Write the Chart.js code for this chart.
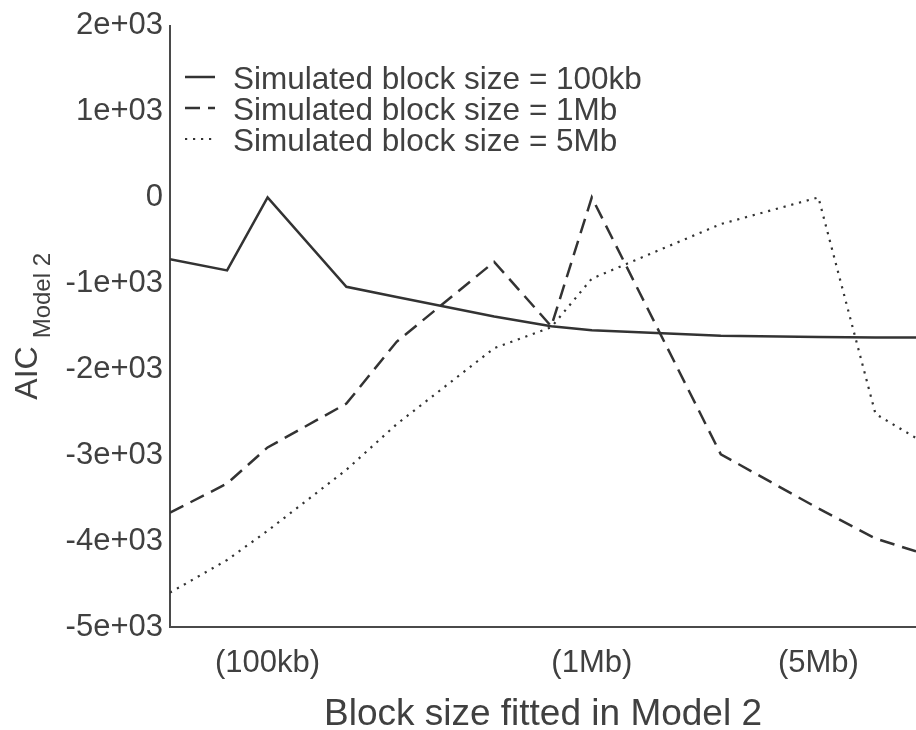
<!DOCTYPE html>
<html lang="en">
<head>
<meta charset="UTF-8" />
<title>AIC Model 2 vs fitted block size</title>
<style>
  html, body { margin: 0; padding: 0; background: #fff; }
  canvas { display: block; }
</style>
</head>
<body>
<canvas id="aicChart" width="916" height="730"></canvas>
<script src="https://cdn.jsdelivr.net/npm/chart.js@4.4.1/dist/chart.umd.min.js"></script>
<script>
// block size fitted in model 2, in kb
const blockSizes = [50, 75, 100, 175, 250, 500, 750, 1000, 2500, 5000, 7500, 10000];

// AIC of model 2 for each simulated block size
const aic100kb = [-720, -850, 0, -1040, -1160, -1385, -1500, -1545, -1610, -1625, -1630, -1630];
const aic1Mb = [-3670, -3330, -2910, -2400, -1680, -750, -1500, 0, -2990, -3620, -3970, -4120];
const aic5Mb = [-4600, -4220, -3880, -3170, -2640, -1755, -1510, -945, -310, 0, -2520, -2800];

const seriesLabels = [
  "Simulated block size = 100kb",
  "Simulated block size = 1Mb",
  "Simulated block size = 5Mb",
];

const xTicks = [100, 1000, 5000];
const xTickLabels = ["(100kb)", "(1Mb)", "(5Mb)"];
const yTicks = [-5000, -4000, -3000, -2000, -1000, 0, 1000, 2000];
const yTickLabels = ["-5e+03", "-4e+03", "-3e+03", "-2e+03", "-1e+03", "0", "1e+03", "2e+03"];

const ink = "#404040";
const lineInk = "#333333";
const family = '"Liberation Sans", Arial, Helvetica, sans-serif';

Chart.defaults.font.family = family;
Chart.defaults.color = ink;

const toPoints = (ys) => blockSizes.map((x, i) => ({ x, y: ys[i] }));

// legend inside the plot and the y title with its subscript
const overlay = {
  id: "overlay",
  afterDraw(chart) {
    const { ctx, chartArea } = chart;
    ctx.save();
    ctx.fillStyle = ink;

    ctx.font = "31.5px " + family;
    ctx.textBaseline = "middle";
    ctx.textAlign = "left";
    chart.data.datasets.forEach((ds, i) => {
      const y = 80 + i * 31;
      ctx.strokeStyle = ds.borderColor;
      ctx.lineWidth = ds.borderWidth;
      ctx.setLineDash(ds.borderDash || []);
      ctx.beginPath();
      ctx.moveTo(chartArea.left + 15, y - 3);
      ctx.lineTo(chartArea.left + 45, y - 3);
      ctx.stroke();
      ctx.fillText(ds.label, chartArea.left + 63, y);
    });
    ctx.setLineDash([]);

    // AIC with "Model 2" subscript, rotated
    const mid = (chartArea.top + chartArea.bottom) / 2;
    ctx.font = "32px " + family;
    const wMain = ctx.measureText("AIC").width;
    ctx.font = "24px " + family;
    const wSub = ctx.measureText("Model 2").width;
    const gap = 8;
    const total = wMain + gap + wSub;
    ctx.translate(37, mid + total / 2);
    ctx.rotate(-Math.PI / 2);
    ctx.textBaseline = "alphabetic";
    ctx.font = "32px " + family;
    ctx.fillText("AIC", 0, 0);
    ctx.font = "24px " + family;
    ctx.fillText("Model 2", wMain + gap, 13);
    ctx.restore();
  },
};

const ctx = document.getElementById("aicChart").getContext("2d");

new Chart(ctx, {
  type: "line",
  data: {
    datasets: [
      {
        label: seriesLabels[0],
        data: toPoints(aic100kb),
        borderColor: lineInk,
        borderWidth: 2.5,
      },
      {
        label: seriesLabels[1],
        data: toPoints(aic1Mb),
        borderColor: lineInk,
        borderWidth: 2.5,
        borderDash: [15, 8],
      },
      {
        label: seriesLabels[2],
        data: toPoints(aic5Mb),
        borderColor: lineInk,
        borderWidth: 2.2,
        borderDash: [2.2, 5.8],
      },
    ],
  },
  options: {
    responsive: false,
    animation: false,
    elements: {
      point: { radius: 0 },
      line: { tension: 0, fill: false },
    },
    layout: { padding: { top: 23, right: 0, bottom: 0, left: 0 } },
    plugins: {
      legend: { display: false },
      tooltip: { enabled: false },
    },
    scales: {
      x: {
        type: "logarithmic",
        min: 50,
        max: 10000,
        grid: { display: false, drawTicks: false },
        border: { display: true, color: "#4a4a4a", width: 2 },
        afterBuildTicks: (scale) => {
          scale.ticks = xTicks.map((v) => ({ value: v }));
        },
        afterFit: (scale) => {
          scale.height = 103;
        },
        ticks: {
          autoSkip: false,
          maxRotation: 0,
          padding: 18,
          color: ink,
          font: { size: 31 },
          callback: (value, index) => xTickLabels[index],
        },
        title: {
          display: true,
          text: "Block size fitted in Model 2",
          color: ink,
          font: { size: 37, lineHeight: 0.8 },
          padding: { top: 0, bottom: 0 },
        },
      },
      y: {
        type: "linear",
        min: -5000,
        max: 2000,
        grid: { display: false, drawTicks: false },
        border: { display: true, color: "#4a4a4a", width: 2 },
        afterBuildTicks: (scale) => {
          scale.ticks = yTicks.map((v) => ({ value: v }));
        },
        afterFit: (scale) => {
          scale.width = 170;
        },
        ticks: {
          padding: 7,
          color: ink,
          font: { size: 31 },
          callback: (value, index) => yTickLabels[index],
        },
      },
    },
  },
  plugins: [overlay],
});
</script>
</body>
</html>
